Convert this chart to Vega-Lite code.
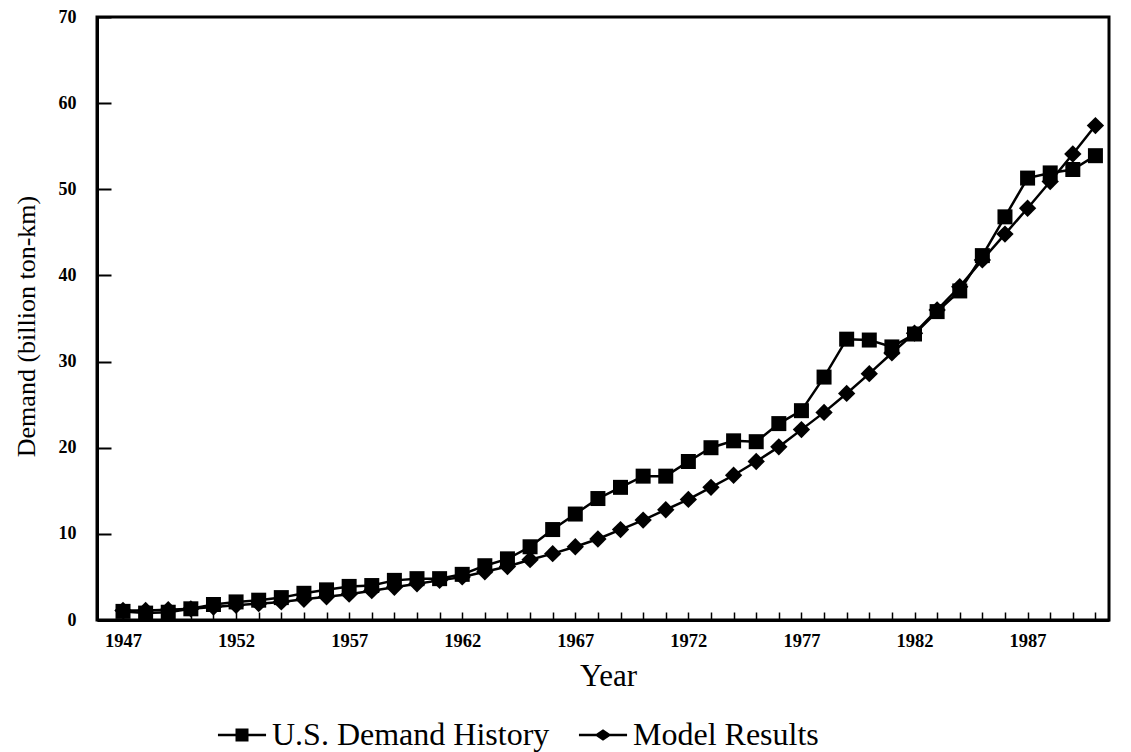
{
  "$schema": "https://vega.github.io/schema/vega-lite/v6.json",
  "autosize": {"type": "none"},
  "padding": {"left": 97, "top": 17, "right": 22, "bottom": 132},
  "width": 1012,
  "height": 603,
  "background": "white",
  "config": {
    "font": "Liberation Serif",
    "view": {"stroke": "black", "strokeWidth": 3},
    "axis": {"grid": false, "domainColor": "black", "domainWidth": 3, "tickColor": "black", "labelColor": "black", "titleColor": "black", "labelFont": "Liberation Serif", "titleFont": "Liberation Serif", "titleFontWeight": "normal"}
  },
  "data": {"values": [
    {"year": 1947, "series": "U.S. Demand History", "demand": 1.0},
    {"year": 1948, "series": "U.S. Demand History", "demand": 0.8},
    {"year": 1949, "series": "U.S. Demand History", "demand": 0.9},
    {"year": 1950, "series": "U.S. Demand History", "demand": 1.3},
    {"year": 1951, "series": "U.S. Demand History", "demand": 1.8},
    {"year": 1952, "series": "U.S. Demand History", "demand": 2.1},
    {"year": 1953, "series": "U.S. Demand History", "demand": 2.3},
    {"year": 1954, "series": "U.S. Demand History", "demand": 2.6},
    {"year": 1955, "series": "U.S. Demand History", "demand": 3.1},
    {"year": 1956, "series": "U.S. Demand History", "demand": 3.5},
    {"year": 1957, "series": "U.S. Demand History", "demand": 3.9},
    {"year": 1958, "series": "U.S. Demand History", "demand": 4.0},
    {"year": 1959, "series": "U.S. Demand History", "demand": 4.6},
    {"year": 1960, "series": "U.S. Demand History", "demand": 4.8},
    {"year": 1961, "series": "U.S. Demand History", "demand": 4.8},
    {"year": 1962, "series": "U.S. Demand History", "demand": 5.3},
    {"year": 1963, "series": "U.S. Demand History", "demand": 6.3},
    {"year": 1964, "series": "U.S. Demand History", "demand": 7.1},
    {"year": 1965, "series": "U.S. Demand History", "demand": 8.5},
    {"year": 1966, "series": "U.S. Demand History", "demand": 10.5},
    {"year": 1967, "series": "U.S. Demand History", "demand": 12.3},
    {"year": 1968, "series": "U.S. Demand History", "demand": 14.1},
    {"year": 1969, "series": "U.S. Demand History", "demand": 15.4},
    {"year": 1970, "series": "U.S. Demand History", "demand": 16.7},
    {"year": 1971, "series": "U.S. Demand History", "demand": 16.7},
    {"year": 1972, "series": "U.S. Demand History", "demand": 18.4},
    {"year": 1973, "series": "U.S. Demand History", "demand": 20.0},
    {"year": 1974, "series": "U.S. Demand History", "demand": 20.8},
    {"year": 1975, "series": "U.S. Demand History", "demand": 20.7},
    {"year": 1976, "series": "U.S. Demand History", "demand": 22.8},
    {"year": 1977, "series": "U.S. Demand History", "demand": 24.3},
    {"year": 1978, "series": "U.S. Demand History", "demand": 28.2},
    {"year": 1979, "series": "U.S. Demand History", "demand": 32.6},
    {"year": 1980, "series": "U.S. Demand History", "demand": 32.5},
    {"year": 1981, "series": "U.S. Demand History", "demand": 31.7},
    {"year": 1982, "series": "U.S. Demand History", "demand": 33.2},
    {"year": 1983, "series": "U.S. Demand History", "demand": 35.8},
    {"year": 1984, "series": "U.S. Demand History", "demand": 38.2},
    {"year": 1985, "series": "U.S. Demand History", "demand": 42.3},
    {"year": 1986, "series": "U.S. Demand History", "demand": 46.8},
    {"year": 1987, "series": "U.S. Demand History", "demand": 51.3},
    {"year": 1988, "series": "U.S. Demand History", "demand": 51.9},
    {"year": 1989, "series": "U.S. Demand History", "demand": 52.3},
    {"year": 1990, "series": "U.S. Demand History", "demand": 53.9},
    {"year": 1947, "series": "Model Results", "demand": 1.1},
    {"year": 1948, "series": "Model Results", "demand": 1.1},
    {"year": 1949, "series": "Model Results", "demand": 1.2},
    {"year": 1950, "series": "Model Results", "demand": 1.3},
    {"year": 1951, "series": "Model Results", "demand": 1.5},
    {"year": 1952, "series": "Model Results", "demand": 1.7},
    {"year": 1953, "series": "Model Results", "demand": 1.9},
    {"year": 1954, "series": "Model Results", "demand": 2.1},
    {"year": 1955, "series": "Model Results", "demand": 2.4},
    {"year": 1956, "series": "Model Results", "demand": 2.7},
    {"year": 1957, "series": "Model Results", "demand": 3.0},
    {"year": 1958, "series": "Model Results", "demand": 3.4},
    {"year": 1959, "series": "Model Results", "demand": 3.8},
    {"year": 1960, "series": "Model Results", "demand": 4.2},
    {"year": 1961, "series": "Model Results", "demand": 4.6},
    {"year": 1962, "series": "Model Results", "demand": 5.0},
    {"year": 1963, "series": "Model Results", "demand": 5.6},
    {"year": 1964, "series": "Model Results", "demand": 6.2},
    {"year": 1965, "series": "Model Results", "demand": 7.0},
    {"year": 1966, "series": "Model Results", "demand": 7.7},
    {"year": 1967, "series": "Model Results", "demand": 8.5},
    {"year": 1968, "series": "Model Results", "demand": 9.4},
    {"year": 1969, "series": "Model Results", "demand": 10.5},
    {"year": 1970, "series": "Model Results", "demand": 11.6},
    {"year": 1971, "series": "Model Results", "demand": 12.8},
    {"year": 1972, "series": "Model Results", "demand": 14.0},
    {"year": 1973, "series": "Model Results", "demand": 15.4},
    {"year": 1974, "series": "Model Results", "demand": 16.8},
    {"year": 1975, "series": "Model Results", "demand": 18.4},
    {"year": 1976, "series": "Model Results", "demand": 20.1},
    {"year": 1977, "series": "Model Results", "demand": 22.1},
    {"year": 1978, "series": "Model Results", "demand": 24.1},
    {"year": 1979, "series": "Model Results", "demand": 26.3},
    {"year": 1980, "series": "Model Results", "demand": 28.6},
    {"year": 1981, "series": "Model Results", "demand": 31.0},
    {"year": 1982, "series": "Model Results", "demand": 33.3},
    {"year": 1983, "series": "Model Results", "demand": 36.0},
    {"year": 1984, "series": "Model Results", "demand": 38.7},
    {"year": 1985, "series": "Model Results", "demand": 41.8},
    {"year": 1986, "series": "Model Results", "demand": 44.8},
    {"year": 1987, "series": "Model Results", "demand": 47.8},
    {"year": 1988, "series": "Model Results", "demand": 50.9},
    {"year": 1989, "series": "Model Results", "demand": 54.1},
    {"year": 1990, "series": "Model Results", "demand": 57.4}
  ]},
  "encoding": {
    "x": {
      "field": "year", "type": "quantitative",
      "scale": {"domain": [1945.85, 1990.6], "nice": false, "zero": false},
      "axis": {
        "title": "Year",
        "titleFontSize": 31,
        "titleX": 511, "titleY": 65, "titleBaseline": "alphabetic", "titleAlign": "center",
        "values": [1947,1948,1949,1950,1951,1952,1953,1954,1955,1956,1957,1958,1959,1960,1961,1962,1963,1964,1965,1966,1967,1968,1969,1970,1971,1972,1973,1974,1975,1976,1977,1978,1979,1980,1981,1982,1983,1984,1985,1986,1987,1988,1989,1990],
        "labelExpr": "(datum.value - 1947) % 5 === 0 ? '' + datum.value : ''",
        "labelOverlap": false, "labelFlush": false,
        "labelFontSize": 18.5, "labelFontWeight": "bold",
        "labelPadding": 19,
        "tickSize": -8, "tickWidth": 1.5
      }
    },
    "y": {
      "field": "demand", "type": "quantitative",
      "scale": {"domain": [0, 70], "nice": false},
      "axis": {
        "title": "Demand (billion ton-km)",
        "titleFontSize": 26,
        "titleX": -63, "titleY": 309, "titleBaseline": "alphabetic", "titleAlign": "center", "titleAngle": -90,
        "values": [0,10,20,30,40,50,60,70],
        "labelFontSize": 18, "labelFontWeight": "bold",
        "labelPadding": 35,
        "tickSize": -14, "tickWidth": 2
      }
    }
  },
  "layer": [
    {
      "mark": {"type": "line", "color": "black", "strokeWidth": 2.5},
      "encoding": {"detail": {"field": "series"}}
    },
    {
      "mark": {"type": "point", "filled": true, "color": "black", "opacity": 1},
      "encoding": {
        "shape": {"field": "series", "type": "nominal", "scale": {"domain": ["U.S. Demand History", "Model Results"], "range": ["square", "diamond"]}, "legend": null},
        "size": {"field": "series", "type": "nominal", "scale": {"domain": ["U.S. Demand History", "Model Results"], "range": [225, 300]}, "legend": null}
      }
    },
    {
      "transform": [{"filter": {"field": "year", "lt": 0}}],
      "mark": {"type": "point", "filled": true, "color": "black", "opacity": 1},
      "encoding": {
        "shape": {
          "field": "series", "type": "nominal",
          "scale": {"domain": ["U.S. Demand History", "Model Results"], "range": ["M-1.85,-0.1H1.85V0.1H-1.85ZM-0.5,-0.5H0.5V0.5H-0.5Z", "M-1.85,-0.1H1.85V0.1H-1.85ZM-0.65,0L0,-0.45L0.65,0L0,0.45Z"]},
          "legend": {
            "title": null, "orient": "none", "direction": "horizontal",
            "legendX": 129, "legendY": 702,
            "symbolSize": 676, "symbolFillColor": "black", "symbolOpacity": 1,
            "labelFont": "Liberation Serif", "labelFontSize": 32, "labelColor": "black", "labelOffset": 14, "labelLimit": 400,
            "columnPadding": 25
          }
        }
      }
    }
  ],
  "resolve": {"scale": {"shape": "independent"}}
}
